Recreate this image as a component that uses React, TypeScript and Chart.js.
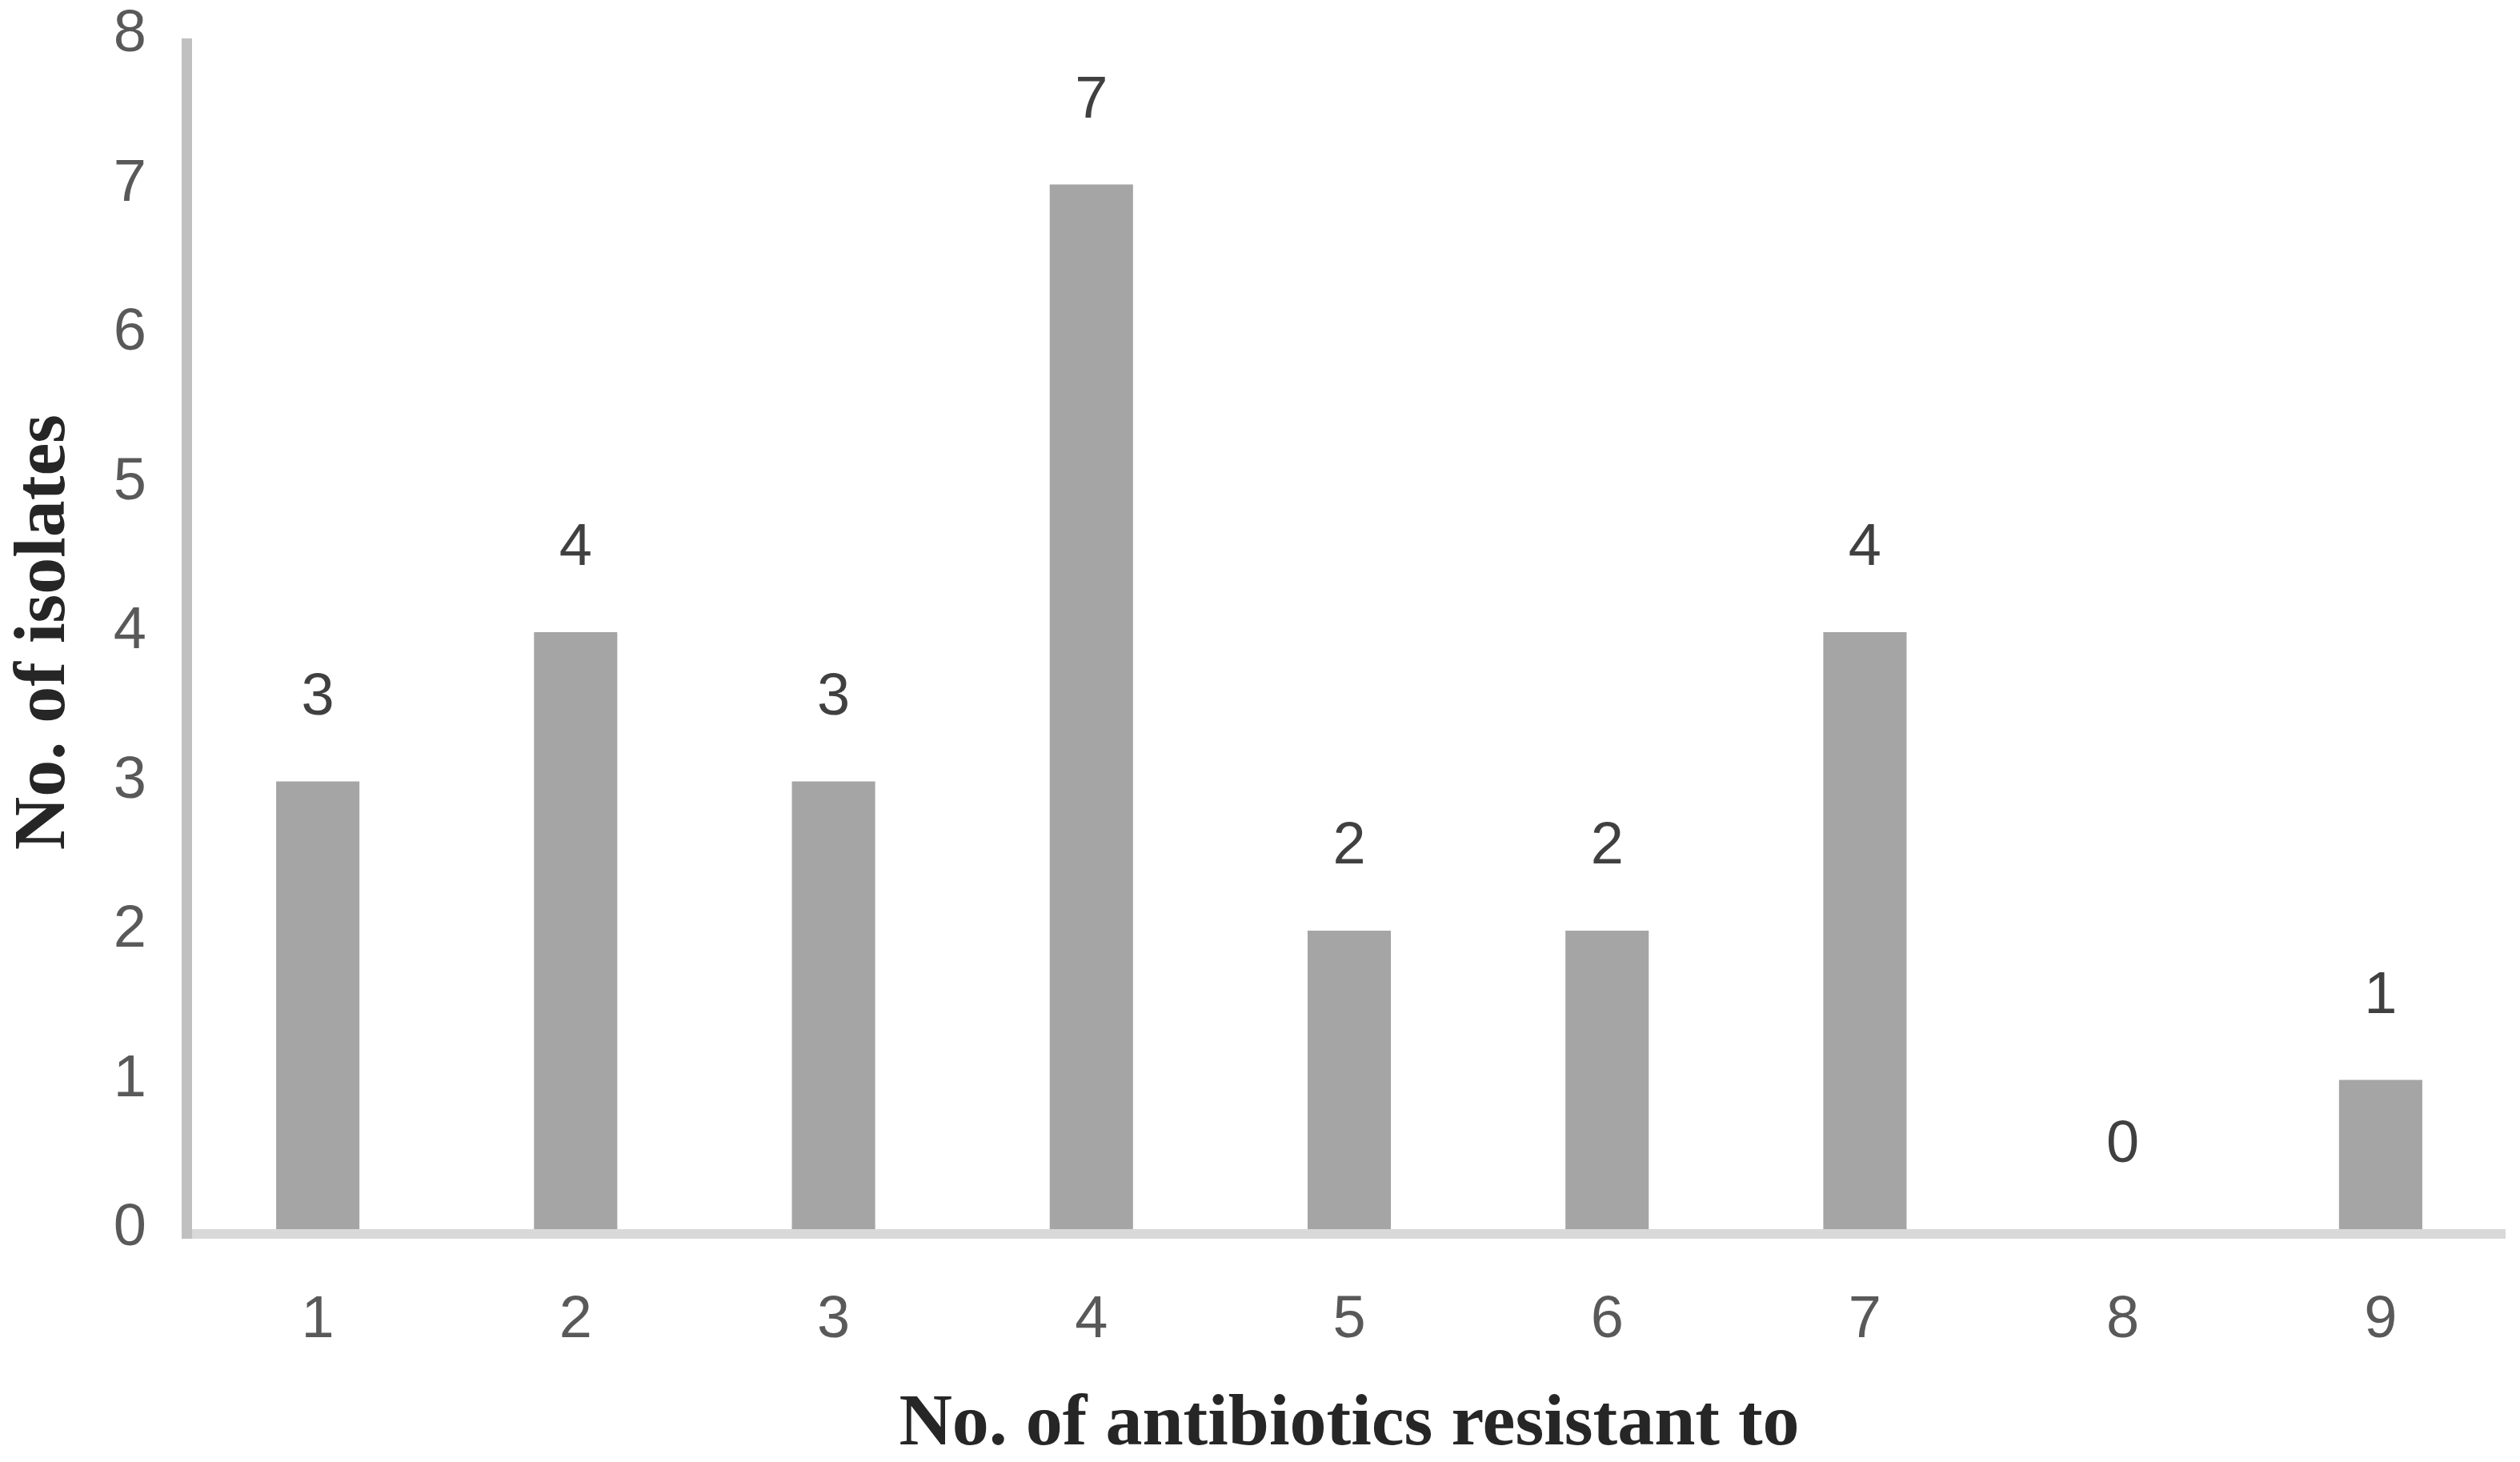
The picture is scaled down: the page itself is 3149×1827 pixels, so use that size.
import React, { useEffect, useRef } from "react";
import { Chart, registerables } from "chart.js";

Chart.register(...registerables);

const categories = ["1", "2", "3", "4", "5", "6", "7", "8", "9"];
const isolates = [3, 4, 3, 7, 2, 2, 4, 0, 1];
const yTicks = [0, 1, 2, 3, 4, 5, 6, 7, 8];
const xTitle = "No. of antibiotics resistant to";
const yTitle = "No. of isolates";

const numFont = '"Liberation Sans", Arial, sans-serif';
const titleFont = '"Liberation Serif", "Times New Roman", serif';

export default function App() {
  const ref = useRef<HTMLCanvasElement | null>(null);

  useEffect(() => {
    const canvas = ref.current;
    if (!canvas) return;

    const axisLines = {
      id: "axisLines",
      beforeDatasetsDraw(chart: any) {
        const { ctx, chartArea } = chart;
        const { left, right, top, bottom } = chartArea;
        ctx.save();
        ctx.fillStyle = "#d9d9d9";
        ctx.fillRect(left - 9, bottom, right - left + 4, 12);
        ctx.fillStyle = "#c0c0c0";
        ctx.fillRect(left - 9, top + 4, 13, bottom + 12 - (top + 4));
        ctx.restore();
      },
    };

    const valueLabels = {
      id: "valueLabels",
      afterDatasetsDraw(chart: any) {
        const { ctx } = chart;
        const meta = chart.getDatasetMeta(0);
        const yScale = chart.scales.y;
        ctx.save();
        ctx.fillStyle = "#404040";
        ctx.font = `74px ${numFont}`;
        ctx.textAlign = "center";
        ctx.textBaseline = "middle";
        meta.data.forEach((bar: any, i: number) => {
          const v = isolates[i];
          ctx.fillText(String(v), bar.x, yScale.getPixelForValue(v) - 104);
        });
        ctx.restore();
      },
    };

    const chart = new Chart(canvas, {
      type: "bar",
      data: {
        labels: categories,
        datasets: [
          {
            data: isolates,
            backgroundColor: "#a5a5a5",
            borderWidth: 0,
            barPercentage: 0.323,
            categoryPercentage: 1,
          },
        ],
      },
      options: {
        animation: false,
        responsive: false,
        maintainAspectRatio: false,
        layout: { padding: { left: 0, right: 13, top: 44, bottom: 0 } },
        plugins: { legend: { display: false }, tooltip: { enabled: false } },
        scales: {
          x: {
            grid: { display: false },
            border: { display: false },
            ticks: {
              color: "#595959",
              font: { family: numFont, size: 74 },
              padding: 62,
            },
            title: {
              display: true,
              text: xTitle,
              color: "#262626",
              font: { family: titleFont, size: 92, weight: "bold", lineHeight: 1 },
              padding: { top: 0, bottom: 0 },
            },
            afterFit(scale: any) {
              scale.height = 291;
              scale.paddingLeft = 0;
              scale.paddingRight = 0;
            },
          },
          y: {
            min: 0,
            max: 8,
            grid: { display: false },
            border: { display: false },
            afterBuildTicks(scale: any) {
              scale.ticks = yTicks.map((v) => ({ value: v }));
            },
            ticks: {
              color: "#595959",
              font: { family: numFont, size: 74 },
              padding: 45,
            },
            title: {
              display: true,
              text: yTitle,
              color: "#262626",
              font: { family: titleFont, size: 92, weight: "bold", lineHeight: 1 },
              padding: { top: 10, bottom: 0 },
            },
            afterFit(scale: any) {
              scale.width = 236;
              scale.paddingTop = 0;
              scale.paddingBottom = 0;
            },
          },
        },
      },
      plugins: [axisLines, valueLabels],
    });

    return () => chart.destroy();
  }, []);

  return (
    <div style={{ position: "fixed", left: 0, top: 0, width: 3149, height: 1827, background: "#fff" }}>
      <canvas ref={ref} width={3149} height={1827} style={{ display: "block" }} />
    </div>
  );
}
